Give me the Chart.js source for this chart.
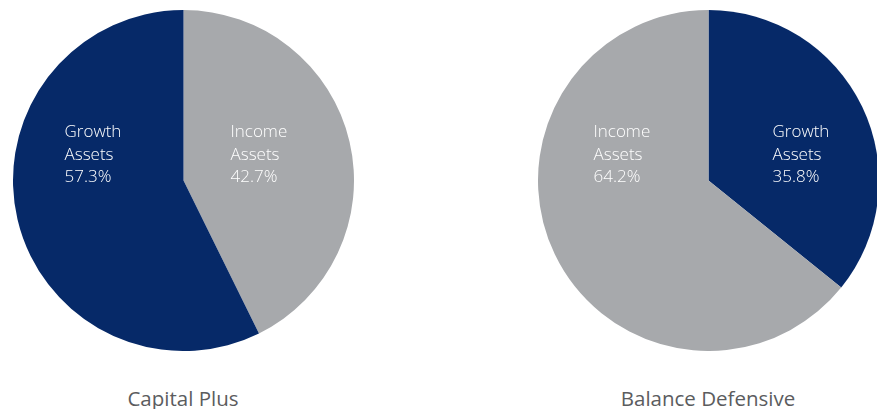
<!DOCTYPE html>
<html>
<head>
<meta charset="utf-8">
<script src="https://cdn.jsdelivr.net/npm/chart.js@4/dist/chart.umd.min.js"></script>
<style>
  html, body { margin: 0; padding: 0; width: 877px; height: 409px; overflow: hidden; background: #fff; }
  .wrap { position: absolute; top: 10px; width: 341px; height: 341px; }
  .title { position: absolute; top: 387px; width: 300px; text-align: center; font-family: "Open Sans", Lato, sans-serif; font-size: 20.5px; line-height: 22px; color: #5b5c5e; }
</style>
</head>
<body>
<div class="wrap" style="left:12.5px"><canvas id="c1" width="341" height="341"></canvas></div>
<div class="wrap" style="left:537.5px"><canvas id="c2" width="341" height="341"></canvas></div>
<div class="title" style="left:33px">Capital Plus</div>
<div class="title" style="left:558px">Balance Defensive</div>
<script>
// Data
const chartTitles = ['Capital Plus', 'Balance Defensive'];
const capitalPlusLabels = ['Income Assets', 'Growth Assets'];
const capitalPlusValues = [42.7, 57.3];
const balanceDefensiveLabels = ['Growth Assets', 'Income Assets'];
const balanceDefensiveValues = [35.8, 64.2];

const NAVY = '#062968';
const GREY = '#a7a9ac';
const colorFor = l => l.startsWith('Growth') ? NAVY : GREY;

const sliceLabelPlugin = {
  id: 'sliceLabels',
  afterDatasetsDraw(chart, args, opts) {
    const ctx = chart.ctx;
    const meta = chart.getDatasetMeta(0);
    const ds = chart.data.datasets[0];
    ctx.save();
    ctx.fillStyle = '#ffffff';
    ctx.font = '300 17px "Open Sans", Lato, sans-serif';
    ctx.textAlign = 'left';
    ctx.textBaseline = 'alphabetic';
    meta.data.forEach((arc, i) => {
      const cx = arc.x, cy = arc.y;
      const dx = opts.dx[i];
      const lines = chart.data.labels[i].split(' ').concat([ds.data[i].toFixed(1) + '%']);
      lines.forEach((t, k) => {
        ctx.fillText(t, cx + dx, cy + opts.dy + k * 22.5);
      });
    });
    ctx.restore();
  }
};

function makePie(id, labels, values, dx) {
  return new Chart(document.getElementById(id), {
    type: 'pie',
    data: {
      labels: labels,
      datasets: [{
        data: values,
        backgroundColor: labels.map(colorFor),
        borderWidth: 0
      }]
    },
    options: {
      responsive: false,
      animation: false,
      layout: { padding: 0 },
      plugins: {
        legend: { display: false },
        tooltip: { enabled: false },
        sliceLabels: { dx: dx, dy: -43.5 }
      }
    },
    plugins: [sliceLabelPlugin]
  });
}

makePie('c1', capitalPlusLabels, capitalPlusValues, [47, -119]);
makePie('c2', balanceDefensiveLabels, balanceDefensiveValues, [64, -115]);
</script>
</body>
</html>
